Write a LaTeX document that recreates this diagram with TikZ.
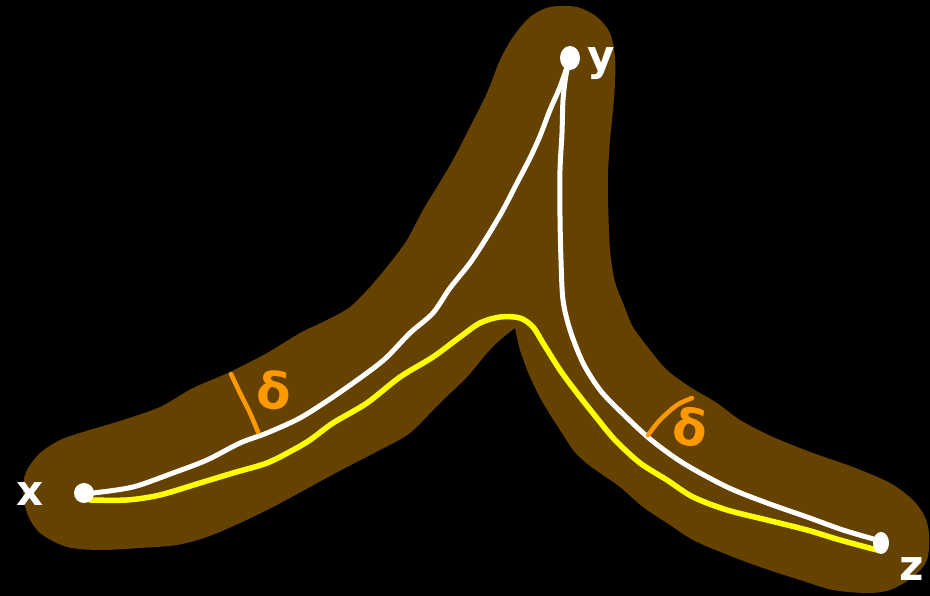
\documentclass[tikz,border=0pt]{standalone}
\usepackage{fontspec}
\newfontfamily\labfont{DejaVu Sans}
\definecolor{bandbrown}{RGB}{102,66,0}
\definecolor{tickorange}{RGB}{255,153,0}
\definecolor{pathyellow}{RGB}{255,255,0}
\begin{document}
\begin{tikzpicture}[x=1pt,y=-1pt,
  whitepath/.style={draw=white,line width=5pt,line cap=round,line join=round},
  yellowpath/.style={draw=pathyellow,line width=5.5pt,line cap=round,line join=round},
  ticksty/.style={draw=tickorange,line width=4.5pt,line cap=round},
  enddot/.style={fill=white},
  ptlabel/.style={text=white,inner sep=0pt,font=\labfont\bfseries\fontsize{42}{42}\selectfont},
  dlabel/.style={text=tickorange,inner sep=0pt,font=\labfont\bfseries\fontsize{50}{50}\selectfont}]
\fill[black] (0,0) rectangle (930,596);
\useasboundingbox (0,0) rectangle (930,596);
% brown neighbourhood band
\fill[bandbrown] plot[smooth,tension=0.5] coordinates {(515,328) (500,340) (487,353) (467,377) (440,403) (410,433) (380,450) (345,468) (310,487) (273,507) (240,523) (207,537) (177,545) (140,548) (100,550) (67,547) (40,533) (27,513) (23,487) (27,470) (40,453) (60,440) (83,432) (123,420) (160,407) (193,388) (230,372) (267,353) (300,333) (327,320) (350,307) (370,287) (390,263) (407,240) (423,210) (437,187) (453,160) (470,127) (487,93) (500,60) (513,37) (530,17) (550,7) (577,7) (597,17) (610,33) (615,57) (615,83) (613,110) (610,140) (608,173) (608,200) (610,250) (615,282) (623,303) (633,327) (650,350) (667,370) (690,387) (717,403) (740,420) (773,437) (813,453) (853,467) (890,483) (913,500) (925,517) (929,535) (927,560) (913,577) (890,590) (867,593) (833,590) (800,580) (760,567) (723,553) (693,540) (667,523) (643,507) (620,487) (600,473) (585,462) (573,450) (560,430) (543,403) (530,377) (520,350) (515,328)} -- cycle;
% end points
\coordinate (X) at (84,493);
\coordinate (Y) at (570,58);
\coordinate (Z) at (881,543);
% white geodesics
\draw[whitepath] plot[smooth,tension=0.5] coordinates {(84,493) (93,493) (133,487) (173,473) (207,460) (240,443) (267,433) (300,418) (333,397) (367,373) (387,357) (410,333) (433,313) (450,288) (470,263) (487,237) (503,210) (517,183) (530,158) (540,136) (550,110) (560,87) (567,67) (570,58)};
\draw[whitepath] plot[smooth,tension=0.5] coordinates {(570,58) (566,75) (563,100) (562,133) (560,170) (560,217) (561,260) (563,300) (570,330) (583,363) (600,390) (620,411) (650,439) (683,463) (727,487) (767,503) (807,517) (843,530) (877,540)};
% yellow geodesic
\draw[yellowpath] plot[smooth,tension=0.5] coordinates {(90,500) (127,500) (160,495) (200,483) (233,473) (267,463) (293,450) (310,440) (333,423) (367,403) (400,377) (433,357) (460,337) (480,323) (500,317) (520,318) (533,327) (543,343) (560,370) (577,393) (596,417) (615,440) (640,463) (667,480) (693,497) (727,510) (767,520) (807,530) (840,540) (877,550)};
% dots
\fill[enddot] (X) ellipse [x radius=10, y radius=10];
\fill[enddot] (Y) ellipse [x radius=10, y radius=12];
\fill[enddot] (Z) ellipse [x radius=8, y radius=11];
% labels
\node[ptlabel] (lx) at (30,494) {x};
\node[ptlabel] (ly) at (601,64) {y};
\node[ptlabel] (lz) at (912,569) {z};
% delta ticks
\draw[ticksty] plot[smooth] coordinates {(231,374) (240,393) (250,413) (258,432)};
\draw[ticksty] plot[smooth] coordinates {(648,435) (660,420) (677,405) (692,398)};
\node[dlabel,rotate=-5] (d1) at (274,390) {δ};
\node[dlabel,rotate=-10] (d2) at (691,427) {δ};
\end{tikzpicture}
\end{document}
